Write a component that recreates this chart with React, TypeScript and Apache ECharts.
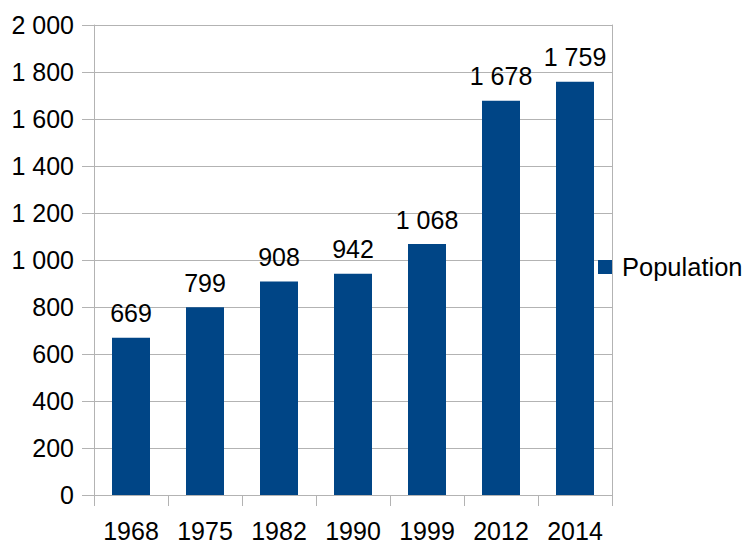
import React, { useEffect, useRef } from "react";
import * as echarts from "echarts";

const categories = ["1968", "1975", "1982", "1990", "1999", "2012", "2014"];
const population = [669, 799, 908, 942, 1068, 1678, 1759];
const seriesName = "Population";

const fmt = (v: number) => String(v).replace(/\B(?=(\d{3})+(?!\d))/g, " ");

export default function App() {
  const ref = useRef<HTMLDivElement>(null);
  useEffect(() => {
    const chart = echarts.init(ref.current!, null, { renderer: "svg" });
    const font = "'Liberation Sans', Arial, sans-serif";
    const grid = "#b3b3b3";
    chart.setOption({
      animation: false,
      textStyle: { fontFamily: font },
      grid: { left: 94, right: 134, top: 25, bottom: 47 },
      legend: {
        show: true,
        left: 598,
        top: 254,
        orient: "vertical",
        itemWidth: 14,
        itemHeight: 14,
        icon: "rect",
        itemGap: 6,
        textStyle: { fontSize: 25.5, color: "#000", fontFamily: font, padding: [0, 0, 0, 5] },
        data: [seriesName],
        padding: 0,
      },
      xAxis: {
        type: "category",
        data: categories,
        axisLine: { show: true, lineStyle: { color: grid } },
        axisTick: { show: true, length: 11, lineStyle: { color: grid } },
        axisLabel: { color: "#000", fontSize: 25, margin: 23, fontFamily: font },
        splitLine: { show: false },
      },
      yAxis: [
        {
          type: "value",
          min: 0,
          max: 2000,
          interval: 200,
          axisLine: { show: true, lineStyle: { color: grid } },
          axisTick: { show: true, length: 12, lineStyle: { color: grid } },
          axisLabel: { color: "#000", fontSize: 25, margin: 20, fontFamily: font, formatter: (v: number) => fmt(v) },
          splitLine: { show: true, lineStyle: { color: grid } },
        },
        {
          type: "value",
          position: "right",
          min: 0,
          max: 2000,
          interval: 200,
          axisLine: { show: true, lineStyle: { color: grid } },
          axisTick: { show: false },
          axisLabel: { show: false },
          splitLine: { show: false },
        },
      ],
      series: [
        {
          name: seriesName,
          type: "bar",
          data: population,
          barWidth: 38,
          itemStyle: { color: "#004586" },
          label: {
            show: true,
            position: "top",
            distance: 12,
            color: "#000",
            fontSize: 25,
            fontFamily: font,
            formatter: (p: any) => fmt(p.value),
          },
        },
      ],
    });
    return () => chart.dispose();
  }, []);
  return <div ref={ref} style={{ width: 746, height: 543, position: "absolute", left: 0, top: 0 }} />;
}
